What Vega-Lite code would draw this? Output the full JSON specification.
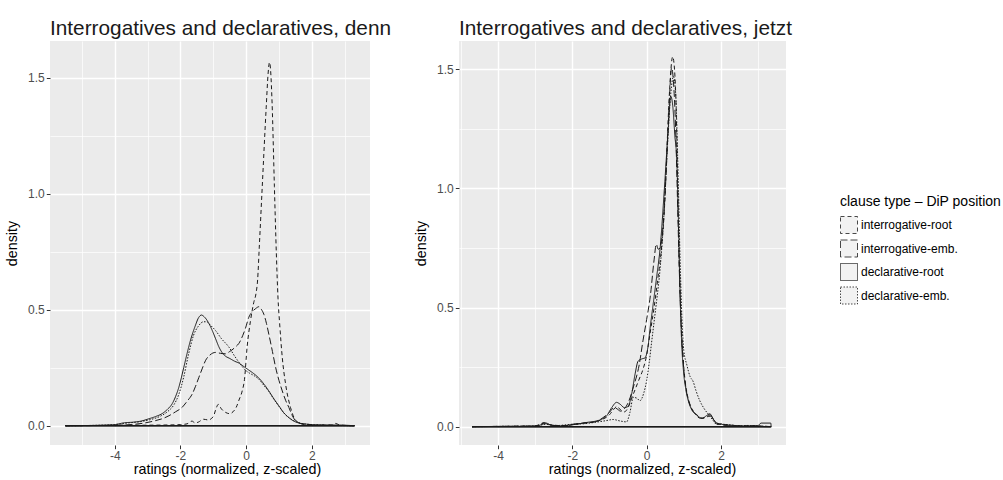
{
  "$schema": "https://vega.github.io/schema/vega-lite/v6.json",
  "padding": {"left": 5, "top": 18, "right": 0, "bottom": 0},
  "background": "white",
  "spacing": 22,
  "datasets": {
    "denn": [
      {"type": "interrogative-root", "x": -5.5, "y": 0},
      {"type": "interrogative-root", "x": -4.5, "y": 0.001},
      {"type": "interrogative-root", "x": -3.5, "y": 0.002},
      {"type": "interrogative-root", "x": -2.5, "y": 0.003},
      {"type": "interrogative-root", "x": -2.0, "y": 0.005},
      {"type": "interrogative-root", "x": -1.8, "y": 0.008},
      {"type": "interrogative-root", "x": -1.65, "y": 0.02},
      {"type": "interrogative-root", "x": -1.55, "y": 0.012},
      {"type": "interrogative-root", "x": -1.45, "y": 0.016},
      {"type": "interrogative-root", "x": -1.3, "y": 0.028},
      {"type": "interrogative-root", "x": -1.15, "y": 0.025},
      {"type": "interrogative-root", "x": -1.0, "y": 0.04},
      {"type": "interrogative-root", "x": -0.9, "y": 0.08},
      {"type": "interrogative-root", "x": -0.85, "y": 0.092},
      {"type": "interrogative-root", "x": -0.75, "y": 0.072},
      {"type": "interrogative-root", "x": -0.62, "y": 0.057},
      {"type": "interrogative-root", "x": -0.5, "y": 0.052},
      {"type": "interrogative-root", "x": -0.4, "y": 0.06},
      {"type": "interrogative-root", "x": -0.3, "y": 0.08},
      {"type": "interrogative-root", "x": -0.22, "y": 0.11},
      {"type": "interrogative-root", "x": -0.12, "y": 0.15},
      {"type": "interrogative-root", "x": -0.05, "y": 0.2},
      {"type": "interrogative-root", "x": 0.03, "y": 0.34},
      {"type": "interrogative-root", "x": 0.13, "y": 0.45},
      {"type": "interrogative-root", "x": 0.23, "y": 0.53},
      {"type": "interrogative-root", "x": 0.3, "y": 0.57},
      {"type": "interrogative-root", "x": 0.35, "y": 0.63},
      {"type": "interrogative-root", "x": 0.4, "y": 0.77},
      {"type": "interrogative-root", "x": 0.49, "y": 1.03},
      {"type": "interrogative-root", "x": 0.61, "y": 1.37},
      {"type": "interrogative-root", "x": 0.67, "y": 1.52},
      {"type": "interrogative-root", "x": 0.71, "y": 1.566},
      {"type": "interrogative-root", "x": 0.75, "y": 1.52},
      {"type": "interrogative-root", "x": 0.79, "y": 1.39},
      {"type": "interrogative-root", "x": 0.86, "y": 1.03},
      {"type": "interrogative-root", "x": 0.92, "y": 0.74},
      {"type": "interrogative-root", "x": 0.97, "y": 0.55},
      {"type": "interrogative-root", "x": 1.02, "y": 0.44},
      {"type": "interrogative-root", "x": 1.1, "y": 0.294},
      {"type": "interrogative-root", "x": 1.2, "y": 0.18},
      {"type": "interrogative-root", "x": 1.35, "y": 0.079},
      {"type": "interrogative-root", "x": 1.5, "y": 0.025},
      {"type": "interrogative-root", "x": 1.65, "y": 0.01},
      {"type": "interrogative-root", "x": 1.8, "y": 0.006},
      {"type": "interrogative-root", "x": 2.2, "y": 0.003},
      {"type": "interrogative-root", "x": 2.6, "y": 0.003},
      {"type": "interrogative-root", "x": 2.72, "y": 0.01},
      {"type": "interrogative-root", "x": 2.85, "y": 0.003},
      {"type": "interrogative-root", "x": 3.3, "y": 0},

      {"type": "interrogative-emb.", "x": -5.5, "y": 0},
      {"type": "interrogative-emb.", "x": -4.5, "y": 0.001},
      {"type": "interrogative-emb.", "x": -4.0, "y": 0.002},
      {"type": "interrogative-emb.", "x": -3.5, "y": 0.005},
      {"type": "interrogative-emb.", "x": -3.17, "y": 0.01},
      {"type": "interrogative-emb.", "x": -2.76, "y": 0.022},
      {"type": "interrogative-emb.", "x": -2.5, "y": 0.033},
      {"type": "interrogative-emb.", "x": -2.35, "y": 0.043},
      {"type": "interrogative-emb.", "x": -2.15, "y": 0.06},
      {"type": "interrogative-emb.", "x": -1.95, "y": 0.079},
      {"type": "interrogative-emb.", "x": -1.8, "y": 0.105},
      {"type": "interrogative-emb.", "x": -1.64, "y": 0.137},
      {"type": "interrogative-emb.", "x": -1.54, "y": 0.17},
      {"type": "interrogative-emb.", "x": -1.44, "y": 0.208},
      {"type": "interrogative-emb.", "x": -1.34, "y": 0.245},
      {"type": "interrogative-emb.", "x": -1.24, "y": 0.28},
      {"type": "interrogative-emb.", "x": -1.1, "y": 0.305},
      {"type": "interrogative-emb.", "x": -0.93, "y": 0.316},
      {"type": "interrogative-emb.", "x": -0.78, "y": 0.312},
      {"type": "interrogative-emb.", "x": -0.63, "y": 0.31},
      {"type": "interrogative-emb.", "x": -0.5, "y": 0.32},
      {"type": "interrogative-emb.", "x": -0.32, "y": 0.34},
      {"type": "interrogative-emb.", "x": -0.22, "y": 0.355},
      {"type": "interrogative-emb.", "x": -0.1, "y": 0.39},
      {"type": "interrogative-emb.", "x": -0.02, "y": 0.42},
      {"type": "interrogative-emb.", "x": 0.08, "y": 0.467},
      {"type": "interrogative-emb.", "x": 0.18, "y": 0.49},
      {"type": "interrogative-emb.", "x": 0.29, "y": 0.505},
      {"type": "interrogative-emb.", "x": 0.39, "y": 0.513},
      {"type": "interrogative-emb.", "x": 0.47, "y": 0.5},
      {"type": "interrogative-emb.", "x": 0.54, "y": 0.48},
      {"type": "interrogative-emb.", "x": 0.62, "y": 0.44},
      {"type": "interrogative-emb.", "x": 0.69, "y": 0.395},
      {"type": "interrogative-emb.", "x": 0.8, "y": 0.32},
      {"type": "interrogative-emb.", "x": 0.9, "y": 0.25},
      {"type": "interrogative-emb.", "x": 1.0, "y": 0.195},
      {"type": "interrogative-emb.", "x": 1.1, "y": 0.15},
      {"type": "interrogative-emb.", "x": 1.2, "y": 0.11},
      {"type": "interrogative-emb.", "x": 1.3, "y": 0.079},
      {"type": "interrogative-emb.", "x": 1.4, "y": 0.045},
      {"type": "interrogative-emb.", "x": 1.5, "y": 0.022},
      {"type": "interrogative-emb.", "x": 1.6, "y": 0.013},
      {"type": "interrogative-emb.", "x": 1.7, "y": 0.008},
      {"type": "interrogative-emb.", "x": 2.0, "y": 0.003},
      {"type": "interrogative-emb.", "x": 2.5, "y": 0.002},
      {"type": "interrogative-emb.", "x": 3.3, "y": 0},

      {"type": "declarative-root", "x": -5.5, "y": 0},
      {"type": "declarative-root", "x": -4.5, "y": 0.002},
      {"type": "declarative-root", "x": -4.0, "y": 0.005},
      {"type": "declarative-root", "x": -3.7, "y": 0.013},
      {"type": "declarative-root", "x": -3.47, "y": 0.015},
      {"type": "declarative-root", "x": -3.2, "y": 0.02},
      {"type": "declarative-root", "x": -2.96, "y": 0.03},
      {"type": "declarative-root", "x": -2.75, "y": 0.04},
      {"type": "declarative-root", "x": -2.56, "y": 0.052},
      {"type": "declarative-root", "x": -2.4, "y": 0.07},
      {"type": "declarative-root", "x": -2.25, "y": 0.095},
      {"type": "declarative-root", "x": -2.15, "y": 0.125},
      {"type": "declarative-root", "x": -2.05, "y": 0.165},
      {"type": "declarative-root", "x": -1.9, "y": 0.25},
      {"type": "declarative-root", "x": -1.8, "y": 0.31},
      {"type": "declarative-root", "x": -1.69, "y": 0.37},
      {"type": "declarative-root", "x": -1.55, "y": 0.43},
      {"type": "declarative-root", "x": -1.45, "y": 0.465},
      {"type": "declarative-root", "x": -1.36, "y": 0.477},
      {"type": "declarative-root", "x": -1.28, "y": 0.47},
      {"type": "declarative-root", "x": -1.15, "y": 0.445},
      {"type": "declarative-root", "x": -1.03, "y": 0.41},
      {"type": "declarative-root", "x": -0.93, "y": 0.375},
      {"type": "declarative-root", "x": -0.83, "y": 0.34},
      {"type": "declarative-root", "x": -0.73, "y": 0.315},
      {"type": "declarative-root", "x": -0.63, "y": 0.3},
      {"type": "declarative-root", "x": -0.5, "y": 0.29},
      {"type": "declarative-root", "x": -0.35, "y": 0.278},
      {"type": "declarative-root", "x": -0.22, "y": 0.27},
      {"type": "declarative-root", "x": -0.1, "y": 0.258},
      {"type": "declarative-root", "x": 0.0, "y": 0.248},
      {"type": "declarative-root", "x": 0.08, "y": 0.24},
      {"type": "declarative-root", "x": 0.2, "y": 0.228},
      {"type": "declarative-root", "x": 0.39, "y": 0.205},
      {"type": "declarative-root", "x": 0.55, "y": 0.178},
      {"type": "declarative-root", "x": 0.69, "y": 0.15},
      {"type": "declarative-root", "x": 0.85, "y": 0.115},
      {"type": "declarative-root", "x": 1.0, "y": 0.085},
      {"type": "declarative-root", "x": 1.15, "y": 0.055},
      {"type": "declarative-root", "x": 1.3, "y": 0.035},
      {"type": "declarative-root", "x": 1.45, "y": 0.02},
      {"type": "declarative-root", "x": 1.6, "y": 0.012},
      {"type": "declarative-root", "x": 1.9, "y": 0.006},
      {"type": "declarative-root", "x": 2.2, "y": 0.003},
      {"type": "declarative-root", "x": 2.8, "y": 0.003},
      {"type": "declarative-root", "x": 3.3, "y": 0},

      {"type": "declarative-emb.", "x": -5.5, "y": 0},
      {"type": "declarative-emb.", "x": -4.5, "y": 0.002},
      {"type": "declarative-emb.", "x": -4.0, "y": 0.005},
      {"type": "declarative-emb.", "x": -3.6, "y": 0.012},
      {"type": "declarative-emb.", "x": -3.2, "y": 0.018},
      {"type": "declarative-emb.", "x": -2.9, "y": 0.027},
      {"type": "declarative-emb.", "x": -2.6, "y": 0.042},
      {"type": "declarative-emb.", "x": -2.4, "y": 0.06},
      {"type": "declarative-emb.", "x": -2.2, "y": 0.09},
      {"type": "declarative-emb.", "x": -2.05, "y": 0.135},
      {"type": "declarative-emb.", "x": -1.9, "y": 0.21},
      {"type": "declarative-emb.", "x": -1.75, "y": 0.31},
      {"type": "declarative-emb.", "x": -1.6, "y": 0.39},
      {"type": "declarative-emb.", "x": -1.45, "y": 0.43},
      {"type": "declarative-emb.", "x": -1.3, "y": 0.448},
      {"type": "declarative-emb.", "x": -1.2, "y": 0.448},
      {"type": "declarative-emb.", "x": -1.1, "y": 0.435},
      {"type": "declarative-emb.", "x": -0.93, "y": 0.41},
      {"type": "declarative-emb.", "x": -0.75, "y": 0.375},
      {"type": "declarative-emb.", "x": -0.53, "y": 0.34},
      {"type": "declarative-emb.", "x": -0.35, "y": 0.3},
      {"type": "declarative-emb.", "x": -0.2, "y": 0.27},
      {"type": "declarative-emb.", "x": 0.0, "y": 0.237},
      {"type": "declarative-emb.", "x": 0.1, "y": 0.227},
      {"type": "declarative-emb.", "x": 0.25, "y": 0.215},
      {"type": "declarative-emb.", "x": 0.39, "y": 0.2},
      {"type": "declarative-emb.", "x": 0.55, "y": 0.172},
      {"type": "declarative-emb.", "x": 0.69, "y": 0.148},
      {"type": "declarative-emb.", "x": 0.85, "y": 0.113},
      {"type": "declarative-emb.", "x": 1.0, "y": 0.083},
      {"type": "declarative-emb.", "x": 1.15, "y": 0.055},
      {"type": "declarative-emb.", "x": 1.3, "y": 0.035},
      {"type": "declarative-emb.", "x": 1.45, "y": 0.022},
      {"type": "declarative-emb.", "x": 1.6, "y": 0.013},
      {"type": "declarative-emb.", "x": 1.9, "y": 0.006},
      {"type": "declarative-emb.", "x": 2.3, "y": 0.003},
      {"type": "declarative-emb.", "x": 3.3, "y": 0}
    ],
    "jetzt": [
      {"type": "interrogative-root", "x": -4.7, "y": 0},
      {"type": "interrogative-root", "x": -4.0, "y": 0.001},
      {"type": "interrogative-root", "x": -3.0, "y": 0.003},
      {"type": "interrogative-root", "x": -2.75, "y": 0.017},
      {"type": "interrogative-root", "x": -2.6, "y": 0.008},
      {"type": "interrogative-root", "x": -2.2, "y": 0.004},
      {"type": "interrogative-root", "x": -2.0, "y": 0.008},
      {"type": "interrogative-root", "x": -1.7, "y": 0.015},
      {"type": "interrogative-root", "x": -1.4, "y": 0.02},
      {"type": "interrogative-root", "x": -1.2, "y": 0.03},
      {"type": "interrogative-root", "x": -1.0, "y": 0.05},
      {"type": "interrogative-root", "x": -0.9, "y": 0.07},
      {"type": "interrogative-root", "x": -0.8, "y": 0.085},
      {"type": "interrogative-root", "x": -0.7, "y": 0.07},
      {"type": "interrogative-root", "x": -0.6, "y": 0.062},
      {"type": "interrogative-root", "x": -0.5, "y": 0.08},
      {"type": "interrogative-root", "x": -0.4, "y": 0.12},
      {"type": "interrogative-root", "x": -0.3, "y": 0.16},
      {"type": "interrogative-root", "x": -0.2, "y": 0.2},
      {"type": "interrogative-root", "x": -0.1, "y": 0.24},
      {"type": "interrogative-root", "x": 0.0, "y": 0.3},
      {"type": "interrogative-root", "x": 0.09, "y": 0.39},
      {"type": "interrogative-root", "x": 0.2, "y": 0.5},
      {"type": "interrogative-root", "x": 0.3, "y": 0.62},
      {"type": "interrogative-root", "x": 0.4, "y": 0.75},
      {"type": "interrogative-root", "x": 0.48, "y": 0.92},
      {"type": "interrogative-root", "x": 0.555, "y": 1.2},
      {"type": "interrogative-root", "x": 0.62, "y": 1.42},
      {"type": "interrogative-root", "x": 0.7, "y": 1.553},
      {"type": "interrogative-root", "x": 0.75, "y": 1.5},
      {"type": "interrogative-root", "x": 0.8, "y": 1.3},
      {"type": "interrogative-root", "x": 0.85, "y": 0.88},
      {"type": "interrogative-root", "x": 0.9, "y": 0.56},
      {"type": "interrogative-root", "x": 0.95, "y": 0.38},
      {"type": "interrogative-root", "x": 1.0, "y": 0.25},
      {"type": "interrogative-root", "x": 1.1, "y": 0.13},
      {"type": "interrogative-root", "x": 1.2, "y": 0.08},
      {"type": "interrogative-root", "x": 1.35, "y": 0.05},
      {"type": "interrogative-root", "x": 1.5, "y": 0.035},
      {"type": "interrogative-root", "x": 1.6, "y": 0.04},
      {"type": "interrogative-root", "x": 1.7, "y": 0.05},
      {"type": "interrogative-root", "x": 1.8, "y": 0.03},
      {"type": "interrogative-root", "x": 1.95, "y": 0.01},
      {"type": "interrogative-root", "x": 2.1, "y": 0.008},
      {"type": "interrogative-root", "x": 2.3, "y": 0.006},
      {"type": "interrogative-root", "x": 2.6, "y": 0.003},
      {"type": "interrogative-root", "x": 2.8, "y": 0.004},
      {"type": "interrogative-root", "x": 3.35, "y": 0},

      {"type": "interrogative-emb.", "x": -4.7, "y": 0},
      {"type": "interrogative-emb.", "x": -4.0, "y": 0.001},
      {"type": "interrogative-emb.", "x": -3.0, "y": 0.003},
      {"type": "interrogative-emb.", "x": -2.75, "y": 0.015},
      {"type": "interrogative-emb.", "x": -2.6, "y": 0.006},
      {"type": "interrogative-emb.", "x": -2.2, "y": 0.004},
      {"type": "interrogative-emb.", "x": -2.0, "y": 0.01},
      {"type": "interrogative-emb.", "x": -1.7, "y": 0.015},
      {"type": "interrogative-emb.", "x": -1.4, "y": 0.02},
      {"type": "interrogative-emb.", "x": -1.2, "y": 0.035},
      {"type": "interrogative-emb.", "x": -1.0, "y": 0.06},
      {"type": "interrogative-emb.", "x": -0.88, "y": 0.08},
      {"type": "interrogative-emb.", "x": -0.8, "y": 0.075},
      {"type": "interrogative-emb.", "x": -0.7, "y": 0.065},
      {"type": "interrogative-emb.", "x": -0.6, "y": 0.075},
      {"type": "interrogative-emb.", "x": -0.5, "y": 0.1},
      {"type": "interrogative-emb.", "x": -0.35, "y": 0.17},
      {"type": "interrogative-emb.", "x": -0.2, "y": 0.26},
      {"type": "interrogative-emb.", "x": -0.1, "y": 0.36},
      {"type": "interrogative-emb.", "x": 0.0, "y": 0.45},
      {"type": "interrogative-emb.", "x": 0.1, "y": 0.55},
      {"type": "interrogative-emb.", "x": 0.2, "y": 0.7},
      {"type": "interrogative-emb.", "x": 0.26, "y": 0.766},
      {"type": "interrogative-emb.", "x": 0.31, "y": 0.745},
      {"type": "interrogative-emb.", "x": 0.36, "y": 0.75},
      {"type": "interrogative-emb.", "x": 0.45, "y": 0.86},
      {"type": "interrogative-emb.", "x": 0.55, "y": 1.15},
      {"type": "interrogative-emb.", "x": 0.62, "y": 1.4},
      {"type": "interrogative-emb.", "x": 0.67, "y": 1.507},
      {"type": "interrogative-emb.", "x": 0.72, "y": 1.45},
      {"type": "interrogative-emb.", "x": 0.78, "y": 1.25},
      {"type": "interrogative-emb.", "x": 0.83, "y": 0.95},
      {"type": "interrogative-emb.", "x": 0.88, "y": 0.65},
      {"type": "interrogative-emb.", "x": 0.93, "y": 0.42},
      {"type": "interrogative-emb.", "x": 0.98, "y": 0.28},
      {"type": "interrogative-emb.", "x": 1.05, "y": 0.17},
      {"type": "interrogative-emb.", "x": 1.15, "y": 0.1},
      {"type": "interrogative-emb.", "x": 1.3, "y": 0.055},
      {"type": "interrogative-emb.", "x": 1.45, "y": 0.035},
      {"type": "interrogative-emb.", "x": 1.6, "y": 0.04},
      {"type": "interrogative-emb.", "x": 1.72, "y": 0.045},
      {"type": "interrogative-emb.", "x": 1.85, "y": 0.02},
      {"type": "interrogative-emb.", "x": 2.0, "y": 0.01},
      {"type": "interrogative-emb.", "x": 2.2, "y": 0.007},
      {"type": "interrogative-emb.", "x": 2.5, "y": 0.003},
      {"type": "interrogative-emb.", "x": 3.35, "y": 0},

      {"type": "declarative-root", "x": -4.7, "y": 0},
      {"type": "declarative-root", "x": -4.0, "y": 0.001},
      {"type": "declarative-root", "x": -3.0, "y": 0.002},
      {"type": "declarative-root", "x": -2.8, "y": 0.01},
      {"type": "declarative-root", "x": -2.7, "y": 0.015},
      {"type": "declarative-root", "x": -2.6, "y": 0.008},
      {"type": "declarative-root", "x": -2.3, "y": 0.003},
      {"type": "declarative-root", "x": -2.1, "y": 0.006},
      {"type": "declarative-root", "x": -1.9, "y": 0.01},
      {"type": "declarative-root", "x": -1.6, "y": 0.018},
      {"type": "declarative-root", "x": -1.35, "y": 0.024},
      {"type": "declarative-root", "x": -1.2, "y": 0.032},
      {"type": "declarative-root", "x": -1.08, "y": 0.045},
      {"type": "declarative-root", "x": -0.94, "y": 0.08},
      {"type": "declarative-root", "x": -0.81, "y": 0.102},
      {"type": "declarative-root", "x": -0.72, "y": 0.095},
      {"type": "declarative-root", "x": -0.6, "y": 0.08},
      {"type": "declarative-root", "x": -0.5, "y": 0.085},
      {"type": "declarative-root", "x": -0.4, "y": 0.14},
      {"type": "declarative-root", "x": -0.31, "y": 0.222},
      {"type": "declarative-root", "x": -0.23, "y": 0.275},
      {"type": "declarative-root", "x": -0.12, "y": 0.285},
      {"type": "declarative-root", "x": -0.05, "y": 0.288},
      {"type": "declarative-root", "x": 0.03, "y": 0.33},
      {"type": "declarative-root", "x": 0.09, "y": 0.41},
      {"type": "declarative-root", "x": 0.18, "y": 0.52},
      {"type": "declarative-root", "x": 0.27, "y": 0.63},
      {"type": "declarative-root", "x": 0.36, "y": 0.745},
      {"type": "declarative-root", "x": 0.49, "y": 1.03},
      {"type": "declarative-root", "x": 0.58, "y": 1.25},
      {"type": "declarative-root", "x": 0.65, "y": 1.387},
      {"type": "declarative-root", "x": 0.7, "y": 1.35},
      {"type": "declarative-root", "x": 0.76, "y": 1.22},
      {"type": "declarative-root", "x": 0.81, "y": 1.12},
      {"type": "declarative-root", "x": 0.85, "y": 0.9},
      {"type": "declarative-root", "x": 0.9, "y": 0.55},
      {"type": "declarative-root", "x": 0.94, "y": 0.36},
      {"type": "declarative-root", "x": 0.99, "y": 0.236},
      {"type": "declarative-root", "x": 1.05, "y": 0.16},
      {"type": "declarative-root", "x": 1.12, "y": 0.109},
      {"type": "declarative-root", "x": 1.2, "y": 0.075},
      {"type": "declarative-root", "x": 1.35, "y": 0.048},
      {"type": "declarative-root", "x": 1.5, "y": 0.035},
      {"type": "declarative-root", "x": 1.6, "y": 0.045},
      {"type": "declarative-root", "x": 1.7, "y": 0.054},
      {"type": "declarative-root", "x": 1.8, "y": 0.03},
      {"type": "declarative-root", "x": 1.9, "y": 0.01},
      {"type": "declarative-root", "x": 2.0, "y": 0.012},
      {"type": "declarative-root", "x": 2.1, "y": 0.005},
      {"type": "declarative-root", "x": 2.5, "y": 0.003},
      {"type": "declarative-root", "x": 3.0, "y": 0.005},
      {"type": "declarative-root", "x": 3.08, "y": 0.015},
      {"type": "declarative-root", "x": 3.34, "y": 0.015},
      {"type": "declarative-root", "x": 3.35, "y": 0},

      {"type": "declarative-emb.", "x": -4.7, "y": 0},
      {"type": "declarative-emb.", "x": -4.0, "y": 0.001},
      {"type": "declarative-emb.", "x": -3.0, "y": 0.003},
      {"type": "declarative-emb.", "x": -2.7, "y": 0.01},
      {"type": "declarative-emb.", "x": -2.5, "y": 0.004},
      {"type": "declarative-emb.", "x": -2.0, "y": 0.01},
      {"type": "declarative-emb.", "x": -1.7, "y": 0.012},
      {"type": "declarative-emb.", "x": -1.4, "y": 0.018},
      {"type": "declarative-emb.", "x": -1.1, "y": 0.025},
      {"type": "declarative-emb.", "x": -0.9, "y": 0.03},
      {"type": "declarative-emb.", "x": -0.72, "y": 0.024},
      {"type": "declarative-emb.", "x": -0.54, "y": 0.02},
      {"type": "declarative-emb.", "x": -0.45, "y": 0.06},
      {"type": "declarative-emb.", "x": -0.36, "y": 0.123},
      {"type": "declarative-emb.", "x": -0.27, "y": 0.12},
      {"type": "declarative-emb.", "x": -0.18, "y": 0.109},
      {"type": "declarative-emb.", "x": -0.08, "y": 0.14},
      {"type": "declarative-emb.", "x": 0.0, "y": 0.194},
      {"type": "declarative-emb.", "x": 0.07, "y": 0.27},
      {"type": "declarative-emb.", "x": 0.13, "y": 0.35},
      {"type": "declarative-emb.", "x": 0.2, "y": 0.44},
      {"type": "declarative-emb.", "x": 0.27, "y": 0.53},
      {"type": "declarative-emb.", "x": 0.36, "y": 0.66},
      {"type": "declarative-emb.", "x": 0.45, "y": 0.85},
      {"type": "declarative-emb.", "x": 0.55, "y": 1.15},
      {"type": "declarative-emb.", "x": 0.65, "y": 1.4},
      {"type": "declarative-emb.", "x": 0.72, "y": 1.47},
      {"type": "declarative-emb.", "x": 0.78, "y": 1.4},
      {"type": "declarative-emb.", "x": 0.84, "y": 1.1},
      {"type": "declarative-emb.", "x": 0.9, "y": 0.7},
      {"type": "declarative-emb.", "x": 0.95, "y": 0.45},
      {"type": "declarative-emb.", "x": 1.0, "y": 0.32},
      {"type": "declarative-emb.", "x": 1.08, "y": 0.26},
      {"type": "declarative-emb.", "x": 1.17, "y": 0.21},
      {"type": "declarative-emb.", "x": 1.25, "y": 0.19},
      {"type": "declarative-emb.", "x": 1.33, "y": 0.15},
      {"type": "declarative-emb.", "x": 1.43, "y": 0.109},
      {"type": "declarative-emb.", "x": 1.55, "y": 0.075},
      {"type": "declarative-emb.", "x": 1.66, "y": 0.052},
      {"type": "declarative-emb.", "x": 1.77, "y": 0.03},
      {"type": "declarative-emb.", "x": 1.88, "y": 0.01},
      {"type": "declarative-emb.", "x": 2.05, "y": 0.01},
      {"type": "declarative-emb.", "x": 2.2, "y": 0.008},
      {"type": "declarative-emb.", "x": 2.5, "y": 0.004},
      {"type": "declarative-emb.", "x": 2.7, "y": 0.005},
      {"type": "declarative-emb.", "x": 3.0, "y": 0.003},
      {"type": "declarative-emb.", "x": 3.35, "y": 0}
    ]
  },
  "config": {
    "font": "Liberation Sans",
    "view": {"fill": "#EBEBEB", "stroke": null},
    "axis": {
      "domain": false,
      "tickColor": "#333333",
      "tickSize": 3.7,
      "tickWidth": 1,
      "labelColor": "#4D4D4D",
      "labelFontSize": 12,
      "labelPadding": 2,
      "titleFontSize": 14.3,
      "titleFontWeight": "normal",
      "titleColor": "#000000",
      "gridColor": "#FFFFFF"
    },
    "title": {"fontSize": 20.8, "fontWeight": "normal", "anchor": "start", "frame": "group", "color": "#1a1a1a", "offset": 1},
    "legend": {
      "orient": "none",
      "legendX": 790,
      "legendY": 154,
      "padding": 0,
      "titleFontSize": 14,
      "titleFontWeight": "normal",
      "titleColor": "#000000",
      "titleLimit": 400,
      "titlePadding": 7,
      "labelFontSize": 12,
      "labelColor": "#000000",
      "labelOffset": 3,
      "symbolType": "square",
      "symbolSize": 289,
      "symbolStrokeWidth": 0.8,
      "symbolStrokeColor": "#1a1a1a",
      "symbolFillColor": "#F2F2F2",
      "rowPadding": 1.5
    }
  },
  "hconcat": [
    {
      "width": 320,
      "height": 404,
      "title": {"text": "Interrogatives and declaratives, denn"},
      "data": {"name": "denn"},
      "encoding": {
        "x": {
          "field": "x", "type": "quantitative",
          "scale": {"domain": [-5.97, 3.77], "nice": false, "zero": false},
          "axis": {
            "title": "ratings (normalized, z-scaled)",
            "titleX": 177,
            "titlePadding": 1,
            "values": [-5, -4, -3, -2, -1, 0, 1, 2, 3],
            "labelExpr": "datum.value % 2 === 0 ? (datum.value < 0 ? '-' : '') + abs(datum.value) : ''",
            "tickOpacity": {"condition": {"test": "datum.value % 2 === 0", "value": 1}, "value": 0},
            "gridWidth": {"condition": {"test": "datum.value % 2 === 0", "value": 1.4}, "value": 0.7}
          }
        }
      },
      "layer": [
        {
          "mark": {"type": "line", "stroke": "#1a1a1a", "strokeWidth": 1, "interpolate": "monotone", "clip": true},
          "encoding": {
            "y": {
              "field": "y", "type": "quantitative",
              "scale": {"domain": [-0.083, 1.658], "nice": false, "zero": false},
              "axis": {
                "title": "density",
                "titlePadding": 8,
                "values": [0, 0.25, 0.5, 0.75, 1, 1.25, 1.5],
                "format": ".1f",
                "labelExpr": "abs(datum.value * 2 - round(datum.value * 2)) < 0.01 ? datum.label : ''",
                "tickOpacity": {"condition": {"test": "abs(datum.value * 2 - round(datum.value * 2)) < 0.01", "value": 1}, "value": 0},
                "gridWidth": {"condition": {"test": "abs(datum.value * 2 - round(datum.value * 2)) < 0.01", "value": 1.4}, "value": 0.7}
              }
            },
            "strokeDash": {
              "field": "type", "type": "nominal",
              "scale": {
                "domain": ["interrogative-root", "interrogative-emb.", "declarative-root", "declarative-emb."],
                "range": [[4, 3], [7, 3], [1, 0], [1.5, 1.5]]
              },
              "legend": {
                "title": "clause type – DiP position",
                "encode": {
                  "symbols": {"update": {"fill": {"value": "#F2F2F2"}, "fillOpacity": {"value": 1}, "stroke": {"value": "#1a1a1a"}, "strokeWidth": {"value": 0.8}}}
                }
              }
            }
          }
        },
        {
          "mark": {"type": "rule", "stroke": "#1a1a1a", "strokeWidth": 1.2},
          "encoding": {
            "x": {"aggregate": "min", "field": "x", "type": "quantitative"},
            "x2": {"aggregate": "max", "field": "x"},
            "y": {"datum": 0, "type": "quantitative"},
            "detail": {"field": "type", "type": "nominal"}
          }
        }
      ]
    },
    {
      "width": 327,
      "height": 404,
      "title": {"text": "Interrogatives and declaratives, jetzt"},
      "data": {"name": "jetzt"},
      "encoding": {
        "x": {
          "field": "x", "type": "quantitative",
          "scale": {"domain": [-5.05, 3.75], "nice": false, "zero": false},
          "axis": {
            "title": "ratings (normalized, z-scaled)",
            "titleX": 183,
            "titlePadding": 1,
            "values": [-5, -4, -3, -2, -1, 0, 1, 2, 3],
            "labelExpr": "datum.value % 2 === 0 ? (datum.value < 0 ? '-' : '') + abs(datum.value) : ''",
            "tickOpacity": {"condition": {"test": "datum.value % 2 === 0", "value": 1}, "value": 0},
            "gridWidth": {"condition": {"test": "datum.value % 2 === 0", "value": 1.4}, "value": 0.7}
          }
        }
      },
      "layer": [
        {
          "mark": {"type": "line", "stroke": "#1a1a1a", "strokeWidth": 1, "interpolate": "monotone", "clip": true},
          "encoding": {
            "y": {
              "field": "y", "type": "quantitative",
              "scale": {"domain": [-0.077, 1.619], "nice": false, "zero": false},
              "axis": {
                "title": "density",
                "titlePadding": 8,
                "values": [0, 0.25, 0.5, 0.75, 1, 1.25, 1.5],
                "format": ".1f",
                "labelExpr": "abs(datum.value * 2 - round(datum.value * 2)) < 0.01 ? datum.label : ''",
                "tickOpacity": {"condition": {"test": "abs(datum.value * 2 - round(datum.value * 2)) < 0.01", "value": 1}, "value": 0},
                "gridWidth": {"condition": {"test": "abs(datum.value * 2 - round(datum.value * 2)) < 0.01", "value": 1.4}, "value": 0.7}
              }
            },
            "strokeDash": {
              "field": "type", "type": "nominal",
              "scale": {
                "domain": ["interrogative-root", "interrogative-emb.", "declarative-root", "declarative-emb."],
                "range": [[4, 3], [7, 3], [1, 0], [1.5, 1.5]]
              },
              "legend": {
                "title": "clause type – DiP position",
                "encode": {
                  "symbols": {"update": {"fill": {"value": "#F2F2F2"}, "fillOpacity": {"value": 1}, "stroke": {"value": "#1a1a1a"}, "strokeWidth": {"value": 0.8}}}
                }
              }
            }
          }
        },
        {
          "mark": {"type": "rule", "stroke": "#1a1a1a", "strokeWidth": 1.2},
          "encoding": {
            "x": {"aggregate": "min", "field": "x", "type": "quantitative"},
            "x2": {"aggregate": "max", "field": "x"},
            "y": {"datum": 0, "type": "quantitative"},
            "detail": {"field": "type", "type": "nominal"}
          }
        }
      ]
    }
  ]
}
